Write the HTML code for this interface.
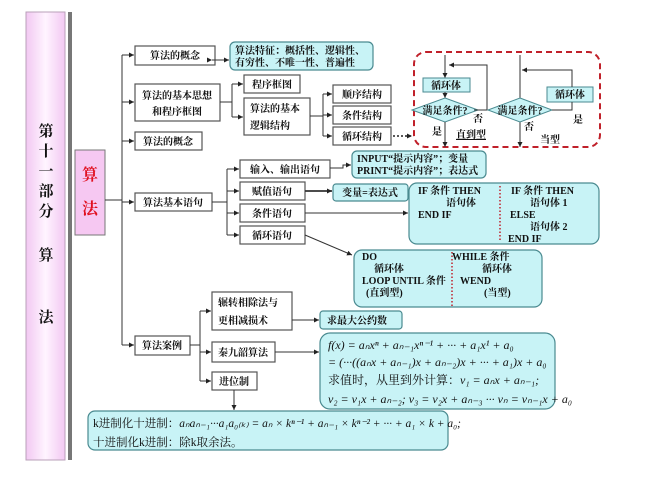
<!DOCTYPE html>
<html><head><meta charset="utf-8"><style>
html,body{margin:0;padding:0;background:#fff;}
svg{display:block;}
text{font-family:"Liberation Serif","Noto Serif CJK SC",serif;font-weight:bold;fill:#111;}
.b{fill:#fff;stroke:#555;stroke-width:1.2;}
.c{fill:#c8f3f6;stroke:#4a8a90;stroke-width:1.2;}
.l{stroke:#333;stroke-width:1;fill:none;}
.s{font-size:10px;}
</style></head><body>
<svg width="654" height="486" viewBox="0 0 654 486" xmlns="http://www.w3.org/2000/svg">
<defs>
<marker id="a" markerUnits="userSpaceOnUse" markerWidth="6" markerHeight="6" refX="5" refY="3" orient="auto"><path d="M0,0.5 L5,3 L0,5.5z" fill="#222"/></marker>
<linearGradient id="pg" x1="0" x2="1"><stop offset="0" stop-color="#f2c8f2"/><stop offset="0.5" stop-color="#fff4ff"/><stop offset="1" stop-color="#f2c8f2"/></linearGradient>
</defs>
<rect x="26" y="12" width="39" height="448" fill="url(#pg)" stroke="#b9a0b9"/>
<rect x="68" y="12" width="4" height="448" fill="#777"/>
<g style="font-size:15px" text-anchor="middle">
<text x="46" y="136">第</text><text x="46" y="156">十</text><text x="46" y="176">一</text><text x="46" y="196">部</text><text x="46" y="216">分</text>
<text x="46" y="260">算</text><text x="46" y="322">法</text>
</g>
<rect x="75" y="150" width="30" height="85" fill="#f6c8f2" stroke="#777"/>
<text x="90" y="180" text-anchor="middle" style="font-size:16px;fill:#e01020">算</text>
<text x="90" y="214" text-anchor="middle" style="font-size:16px;fill:#e01020">法</text>

<path class="l" d="M105,200 H122 M122,55 V345"/>
<path class="l" marker-end="url(#a)" d="M122,55 H134"/>
<path class="l" marker-end="url(#a)" d="M122,102 H134"/>
<path class="l" marker-end="url(#a)" d="M122,141 H134"/>
<path class="l" marker-end="url(#a)" d="M122,202 H134"/>
<path class="l" marker-end="url(#a)" d="M122,345 H134"/>

<rect class="b" x="135" y="46" width="80" height="19"/><text class="s" x="175" y="59" text-anchor="middle">算法的概念</text>
<path class="l" marker-end="url(#a)" marker-start="url(#a)" d="M212,60 H229"/>
<rect class="c" x="230" y="42" width="143" height="28" rx="5"/>
<text class="s" x="235" y="54">算法特征：概括性、逻辑性、</text><text class="s" x="235" y="66">有穷性、不唯一性、普遍性</text>

<rect class="b" x="135" y="84" width="85" height="37"/>
<text class="s" x="177" y="99" text-anchor="middle">算法的基本思想</text><text class="s" x="177" y="115" text-anchor="middle">和程序框图</text>
<path class="l" d="M220,102 H232 M232,84 V117"/>
<path class="l" marker-end="url(#a)" d="M232,84 H243"/><path class="l" marker-end="url(#a)" d="M232,117 H243"/>
<rect class="b" x="244" y="75" width="56" height="18"/><text class="s" x="272" y="88" text-anchor="middle">程序框图</text>
<rect class="b" x="244" y="98" width="66" height="37"/><text class="s" x="250" y="112">算法的基本</text><text class="s" x="250" y="129">逻辑结构</text>
<path class="l" d="M310,116 H323 M323,94 V136"/>
<path class="l" marker-end="url(#a)" d="M323,94 H332"/><path class="l" marker-end="url(#a)" d="M323,115 H332"/><path class="l" marker-end="url(#a)" d="M323,136 H332"/>
<rect class="b" x="333" y="85" width="58" height="18"/><text class="s" x="362" y="98" text-anchor="middle">顺序结构</text>
<rect class="b" x="333" y="106" width="58" height="18"/><text class="s" x="362" y="119" text-anchor="middle">条件结构</text>
<rect class="b" x="333" y="127" width="58" height="18"/><text class="s" x="362" y="140" text-anchor="middle">循环结构</text>
<path d="M393,136 H412" stroke="#222" stroke-width="1.5" stroke-dasharray="2,2" fill="none" marker-end="url(#a)"/>

<rect x="414" y="52" width="186" height="95" rx="12" fill="none" stroke="#c0202a" stroke-width="2" stroke-dasharray="6,4"/>
<path class="l" marker-end="url(#a)" d="M445,55 V78"/>
<rect class="c" x="423" y="78" width="47" height="14" style="stroke-width:1"/><text class="s" x="446" y="89" text-anchor="middle">循环体</text>
<path class="l" marker-end="url(#a)" d="M445,92 V98"/>
<path class="c" d="M445,98 L478,110 L445,122 L412,110z" style="stroke-width:1"/>
<text class="s" x="445" y="114" text-anchor="middle">满足条件?</text>
<path class="l" marker-end="url(#a)" d="M474,110 H487 V65 H449"/>
<path class="l" marker-end="url(#a)" d="M445,122 V147"/>
<text class="s" x="473" y="122">否</text><text class="s" x="432" y="135">是</text>
<text class="s" x="456" y="138" style="text-decoration:underline">直到型</text>
<path class="l" marker-end="url(#a)" d="M520,55 V147"/>
<path class="c" d="M520,98 L552,110 L520,122 L488,110z" style="stroke-width:1"/>
<text class="s" x="520" y="114" text-anchor="middle">满足条件?</text>
<rect class="c" x="547" y="87" width="46" height="15" style="stroke-width:1"/><text class="s" x="570" y="98" text-anchor="middle">循环体</text>
<path class="l" d="M552,110 H572 V102"/>
<path class="l" marker-end="url(#a)" d="M572,87 V70 H522"/>
<text class="s" x="524" y="130">否</text><text class="s" x="573" y="123">是</text>
<text class="s" x="540" y="143">当型</text>

<rect class="b" x="135" y="132" width="67" height="18"/><text class="s" x="168" y="145" text-anchor="middle">算法的概念</text>

<rect class="b" x="135" y="193" width="77" height="18"/><text class="s" x="173" y="206" text-anchor="middle">算法基本语句</text>
<path class="l" d="M212,202 H227 M227,169 V235"/>
<path class="l" marker-end="url(#a)" d="M227,169 H239"/><path class="l" marker-end="url(#a)" d="M227,191 H239"/>
<path class="l" marker-end="url(#a)" d="M227,213 H239"/><path class="l" marker-end="url(#a)" d="M227,235 H239"/>
<rect class="b" x="240" y="160" width="90" height="18"/><text class="s" x="285" y="173" text-anchor="middle">输入、输出语句</text>
<rect class="b" x="240" y="182" width="65" height="18"/><text class="s" x="272" y="195" text-anchor="middle">赋值语句</text>
<rect class="b" x="240" y="204" width="65" height="18"/><text class="s" x="272" y="217" text-anchor="middle">条件语句</text>
<rect class="b" x="240" y="226" width="65" height="18"/><text class="s" x="272" y="239" text-anchor="middle">循环语句</text>
<path class="l" marker-end="url(#a)" d="M330,168 H343 V165 H351"/>
<rect class="c" x="352" y="151" width="134" height="27" rx="5"/>
<text class="s" x="357" y="162">INPUT“提示内容”；变量</text><text class="s" x="357" y="174">PRINT“提示内容”；表达式</text>
<path class="l" marker-end="url(#a)" d="M305,191 H332" style="stroke-width:1.8"/>
<rect class="c" x="333" y="184" width="75" height="17" rx="3"/><text class="s" x="370" y="196" text-anchor="middle">变量=表达式</text>
<path class="l" marker-end="url(#a)" d="M305,213 H408"/>
<rect class="c" x="409" y="183" width="190" height="61" rx="8"/>
<path d="M500,186 V242" stroke="#c0202a" stroke-dasharray="1.5,2" stroke-width="1.5"/>
<text class="s" x="418" y="194">IF 条件 THEN</text><text class="s" x="446" y="206">语句体</text><text class="s" x="418" y="218">END  IF</text>
<text class="s" x="511" y="194">IF 条件  THEN</text><text class="s" x="530" y="206">语句体 1</text><text class="s" x="510" y="218">ELSE</text><text class="s" x="530" y="230">语句体 2</text><text class="s" x="508" y="242">END  IF</text>
<path class="l" marker-end="url(#a)" d="M305,235 L352,255"/>
<rect class="c" x="354" y="250" width="188" height="57" rx="8"/>
<path d="M452,252 V306" stroke="#c0202a" stroke-dasharray="1.5,2" stroke-width="1.5"/>
<text class="s" x="362" y="260">DO</text><text class="s" x="374" y="272">循环体</text><text class="s" x="362" y="284">LOOP UNTIL 条件</text><text class="s" x="366" y="296">(直到型)</text>
<text class="s" x="452" y="260">WHILE  条件</text><text class="s" x="482" y="272">循环体</text><text class="s" x="460" y="284">WEND</text><text class="s" x="484" y="296">(当型)</text>

<rect class="b" x="135" y="336" width="55" height="19"/><text class="s" x="162" y="349" text-anchor="middle">算法案例</text>
<path class="l" d="M190,345 H200 M200,311 V381"/>
<path class="l" marker-end="url(#a)" d="M200,311 H211"/><path class="l" marker-end="url(#a)" d="M200,352 H211"/><path class="l" marker-end="url(#a)" d="M200,381 H211"/>
<rect class="b" x="212" y="292" width="80" height="38"/><text class="s" x="218" y="306">辗转相除法与</text><text class="s" x="218" y="324">更相减损术</text>
<rect class="b" x="212" y="342" width="63" height="20"/><text class="s" x="243" y="356" text-anchor="middle">秦九韶算法</text>
<rect class="b" x="212" y="372" width="45" height="18"/><text class="s" x="234" y="385" text-anchor="middle">进位制</text>
<path class="l" marker-end="url(#a)" d="M292,320 H319"/>
<rect class="c" x="320" y="311" width="82" height="18" rx="3"/><text class="s" x="327" y="324">求最大公约数</text>
<path class="l" marker-end="url(#a)" d="M275,352 H319"/>
<rect class="c" x="320" y="333" width="235" height="76" rx="10"/>
<g style="font-family:'Liberation Serif','Noto Serif CJK SC',serif;font-size:12px;font-style:italic">
<text x="328" y="349" style="font-weight:normal">f(x) = aₙxⁿ + aₙ₋₁xⁿ⁻¹ + ··· + a₁x¹ + a₀</text>
<text x="328" y="366" style="font-weight:normal">= (···((aₙx + aₙ₋₁)x + aₙ₋₂)x + ··· + a₁)x + a₀</text>
<text x="328" y="384" style="font-weight:normal;font-style:normal">求值时，从里到外计算：<tspan font-style="italic">v₁ = aₙx + aₙ₋₁;</tspan></text>
<text x="328" y="403" style="font-weight:normal">v₂ = v₁x + aₙ₋₂; v₃ = v₂x + aₙ₋₃ ··· vₙ = vₙ₋₁x + a₀</text>
</g>
<path class="l" marker-end="url(#a)" d="M234,390 V410"/>
<rect class="c" x="88" y="411" width="360" height="39" rx="7"/>
<text x="93" y="427" style="font-weight:normal;font-size:11.5px">k进制化十进制：<tspan font-style="italic">aₙaₙ₋₁···a₁a₀₍ₖ₎ = aₙ × kⁿ⁻¹ + aₙ₋₁ × kⁿ⁻² + ··· + a₁ × k + a₀;</tspan></text>
<text x="93" y="446" style="font-weight:normal;font-size:11.5px">十进制化k进制：除k取余法。</text>
</svg>
</body></html>
